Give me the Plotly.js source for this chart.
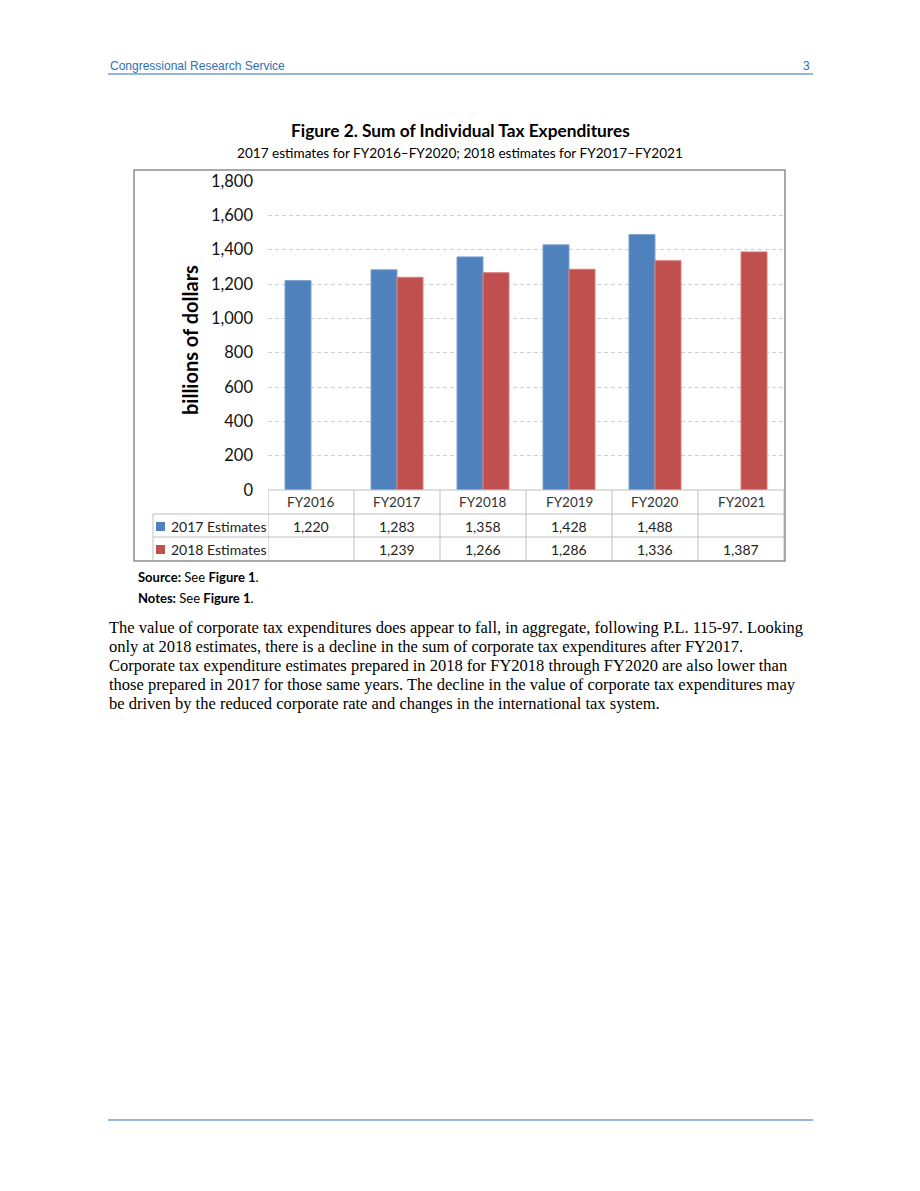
<!DOCTYPE html>
<html>
<head>
<meta charset="utf-8">
<script src="https://cdn.plot.ly/plotly-3.0.1.min.js"></script>
<style>
  html, body { margin: 0; padding: 0; background: #fff; }
  #page { width: 920px; height: 1191px; }
</style>
</head>
<body>
<div id="page"></div>
<script>
// chart data
const years = ['FY2016', 'FY2017', 'FY2018', 'FY2019', 'FY2020', 'FY2021'];
const est2017 = [1220, 1283, 1358, 1428, 1488, null];
const est2018 = [null, 1239, 1266, 1286, 1336, 1387];
const seriesNames = ['2017 Estimates', '2018 Estimates'];
const yTicks = [0, 200, 400, 600, 800, 1000, 1200, 1400, 1600, 1800];

const bodyLines = [
  'The value of corporate tax expenditures does appear to fall, in aggregate, following P.L. 115-97. Looking',
  'only at 2018 estimates, there is a decline in the sum of corporate tax expenditures after FY2017.',
  'Corporate tax expenditure estimates prepared in 2018 for FY2018 through FY2020 are also lower than',
  'those prepared in 2017 for those same years. The decline in the value of corporate tax expenditures may',
  'be driven by the reduced corporate rate and changes in the international tax system.'
];

const W = 920, H = 1191;
const px = x => x / W;
const py = y => 1 - y / H;

const BLUE = '#4F81BD';
const RED = '#C0504D';
const CRS = '#2f6eb3';
const GRID = '#bfbfbf';
const sans = 'Lato, "Open Sans", sans-serif';

const fmt = v => (v == null ? '' : v.toLocaleString('en-US'));

const data = [
  { type: 'bar', name: seriesNames[0], x: years, y: est2017,
    marker: { color: BLUE, line: { color: '#7fa3d3', width: 1 } }, hoverinfo: 'skip' },
  { type: 'bar', name: seriesNames[1], x: years, y: est2018,
    marker: { color: RED, line: { color: '#d6817f', width: 1 } }, hoverinfo: 'skip' }
];

const rowY = [502, 526, 549];   // centres of table rows
const shapes = [];
const annotations = [];

// page header / footer rules
shapes.push({ type: 'line', xref: 'paper', yref: 'paper', x0: px(108), x1: px(813), y0: py(74), y1: py(74),
  line: { color: CRS, width: 1 } });
shapes.push({ type: 'line', xref: 'paper', yref: 'paper', x0: px(108), x1: px(813), y0: py(1120), y1: py(1120),
  line: { color: CRS, width: 1 } });

// chart frame
shapes.push({ type: 'rect', xref: 'paper', yref: 'paper', x0: px(134), x1: px(785), y0: py(561), y1: py(170),
  line: { color: '#8c8c8c', width: 1.5 } });

// table grid
shapes.push({ type: 'line', xref: 'x', yref: 'paper', x0: -0.5, x1: 5.5, y0: py(490), y1: py(490), line: { color: GRID, width: 1 } });
[514, 537].forEach(y => shapes.push({ type: 'line', xref: 'paper', yref: 'paper', x0: px(153), x1: px(784),
  y0: py(y), y1: py(y), line: { color: GRID, width: 1 } }));
for (let i = 0; i <= years.length; i++) {
  shapes.push({ type: 'line', xref: 'x', yref: 'paper', x0: i - 0.5, x1: i - 0.5, y0: py(490), y1: py(560),
    line: { color: GRID, width: 1 } });
}
shapes.push({ type: 'line', xref: 'paper', yref: 'paper', x0: px(153), x1: px(153), y0: py(514), y1: py(560),
  line: { color: GRID, width: 1 } });

// legend keys + row labels
[BLUE, RED].forEach((c, k) => {
  const cy = rowY[k + 1];
  shapes.push({ type: 'rect', xref: 'paper', yref: 'paper', x0: px(156), x1: px(165), y0: py(cy + 5), y1: py(cy - 4),
    fillcolor: c, line: { width: 0 } });
  annotations.push({ xref: 'paper', yref: 'paper', x: px(169), y: py(cy), xanchor: 'left', yanchor: 'middle',
    text: seriesNames[k], showarrow: false, font: { family: sans, size: 14, color: '#222' } });
});

// category header and values
years.forEach((yr, i) => {
  annotations.push({ xref: 'x', yref: 'paper', x: yr, y: py(rowY[0]), yanchor: 'middle', text: yr,
    showarrow: false, font: { family: sans, size: 13.5, color: '#333' } });
  [est2017, est2018].forEach((s, k) => {
    annotations.push({ xref: 'x', yref: 'paper', x: yr, y: py(rowY[k + 1]), yanchor: 'middle', text: fmt(s[i]),
      showarrow: false, font: { family: sans, size: 14, color: '#222' } });
  });
});

// y-axis title
annotations.push({ xref: 'paper', yref: 'paper', x: px(190), y: py(340), textangle: -90, xanchor: 'center', yanchor: 'middle',
  text: '<b>billions of dollars</b>', showarrow: false, font: { family: sans, size: 20, color: '#000' } });

// page texts
annotations.push({ xref: 'paper', yref: 'paper', x: px(108), y: py(66), xanchor: 'left', yanchor: 'middle',
  text: 'Congressional Research Service', showarrow: false,
  font: { family: '"Liberation Sans", Arial, sans-serif', size: 12, color: CRS } });
annotations.push({ xref: 'paper', yref: 'paper', x: px(812), y: py(66), xanchor: 'right', yanchor: 'middle',
  text: '3', showarrow: false, font: { family: '"Liberation Sans", Arial, sans-serif', size: 12, color: CRS } });
annotations.push({ xref: 'paper', yref: 'paper', x: px(460), y: py(130), xanchor: 'center', yanchor: 'middle',
  text: '<b>Figure 2. Sum of Individual Tax Expenditures</b>', showarrow: false,
  font: { family: sans, size: 17.3, color: '#000' } });
annotations.push({ xref: 'paper', yref: 'paper', x: px(460), y: py(153), xanchor: 'center', yanchor: 'middle',
  text: '2017 estimates for FY2016\u2013FY2020; 2018 estimates for FY2017\u2013FY2021', showarrow: false,
  font: { family: sans, size: 13.6, color: '#000' } });
annotations.push({ xref: 'paper', yref: 'paper', x: px(136), y: py(577), xanchor: 'left', yanchor: 'middle',
  text: '<b>Source:</b> See <b>Figure 1</b>.', showarrow: false, font: { family: sans, size: 13, color: '#000' } });
annotations.push({ xref: 'paper', yref: 'paper', x: px(136), y: py(598), xanchor: 'left', yanchor: 'middle',
  text: '<b>Notes:</b> See <b>Figure 1</b>.', showarrow: false, font: { family: sans, size: 13, color: '#000' } });
bodyLines.forEach((t, i) => {
  annotations.push({ xref: 'paper', yref: 'paper', x: px(107), y: py(627 + i * 19), xanchor: 'left', yanchor: 'middle',
    text: t, showarrow: false,
    font: { family: '"Liberation Serif", "Times New Roman", serif', size: 16.5, color: '#000' } });
});

const layout = {
  width: W, height: H,
  margin: { l: 0, r: 0, t: 0, b: 0 },
  paper_bgcolor: '#fff', plot_bgcolor: '#fff',
  showlegend: false,
  barmode: 'group', bargap: 0.395, bargroupgap: 0,
  xaxis: {
    domain: [px(268), px(784)], range: [-0.5, 5.5], type: 'category',
    showticklabels: false, showgrid: false, zeroline: false, showline: false, fixedrange: true
  },
  yaxis: {
    domain: [py(490), py(181)], range: [0, 1800],
    tickvals: yTicks, tickformat: ',d', ticks: '', ticklabelstandoff: 14,
    tickfont: { family: sans, size: 16.5, color: '#111' },
    showgrid: true, gridcolor: '#d0d0d0', griddash: '4px,3px', gridwidth: 1,
    zeroline: false, showline: false, fixedrange: true
  },
  shapes: shapes,
  annotations: annotations
};

Plotly.newPlot('page', data, layout, { staticPlot: true, displayModeBar: false });
</script>
</body>
</html>
